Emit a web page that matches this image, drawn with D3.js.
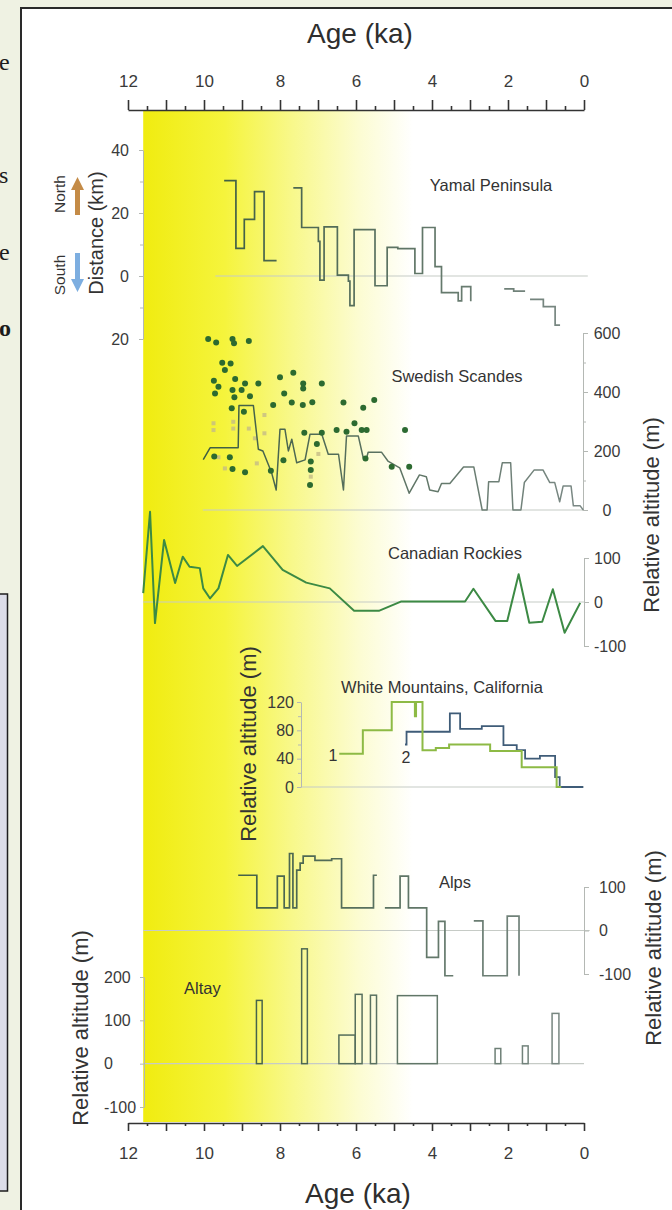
<!DOCTYPE html>
<html>
<head>
<meta charset="utf-8">
<script src="https://cdn.jsdelivr.net/npm/d3@7"></script>
<style>
  html, body { margin: 0; padding: 0; background: #eff2e3; }
  svg { display: block; }
</style>
</head>
<body>
<script>
// ages in ka, values in km (Yamal) or metres (the rest)
var ageTicks = d3.range(0, 13);
var ageMinorTicks = d3.range(0.5, 12, 1);

var yamalSegments = [
  [[9.47, 30.3], [9.16, 8.8], [8.94, 18], [8.67, 26.8], [8.42, 4.9], [8.09, 4.9]],
  [[7.65, 28], [7.43, 15.4], [6.99, 11], [6.95, -1.3], [6.84, 15.6], [6.49, 0.3], [6.2, -1.6], [6.16, -9.4],
   [6.05, 14.7], [5.5, -3.1], [5.18, 9.1], [4.9, 8.7], [4.45, 0.8], [4.25, 15.4], [3.92, 3], [3.75, -5.3],
   [3.31, -7.9], [3.22, -3.4], [2.98, -8]],
  [[2.1, -4.1], [1.85, -4.8], [1.55, -4.8]],
  [[1.42, -7.4], [1.07, -9.7], [0.76, -15.6], [0.63, -15.6]]
];

var scandesLine = [
  [10.02, 171], [9.84, 211], [9.1, 211], [9.08, 354], [8.7, 354], [8.57, 206], [8.45, 200], [8.22, 126],
  [8.1, 68], [8.0, 274], [7.87, 274], [7.78, 200], [7.69, 240], [7.56, 160], [7.34, 170], [7.21, 257],
  [6.9, 257], [6.73, 189], [6.46, 189], [6.33, 68], [6.25, 251], [5.94, 251], [5.81, 177], [5.72, 177],
  [5.68, 196], [5.33, 196], [5.16, 166], [4.85, 143], [4.6, 57], [4.33, 119], [4.15, 113], [4.06, 68],
  [3.84, 62], [3.75, 90], [3.53, 90], [3.17, 146], [2.9, 146], [2.68, 0], [2.55, 0], [2.51, 96],
  [2.24, 96], [2.15, 160], [1.93, 160], [1.87, 0], [1.66, 0], [1.57, 93], [1.31, 136], [1.08, 136],
  [0.9, 93], [0.77, 93], [0.64, 28], [0.55, 81], [0.34, 81], [0.28, 14], [0.1, 14], [0.02, 0]
];

var scandesDots = [
  [9.89, 580], [9.68, 568], [9.25, 580], [9.21, 565], [8.82, 573], [9.52, 499], [9.3, 497], [9.45, 475],
  [9.74, 438], [9.18, 444], [8.92, 429], [8.57, 429], [9.62, 418], [9.25, 407], [9.01, 407], [9.71, 395],
  [9.2, 382], [8.79, 386], [8.0, 450], [7.65, 465], [7.89, 395], [7.39, 429], [7.39, 412], [6.9, 429],
  [9.27, 345], [8.95, 333], [8.18, 356], [7.69, 364], [7.4, 356], [7.15, 365], [6.33, 364], [5.81, 347],
  [5.52, 373], [7.36, 262], [6.9, 262], [6.51, 271], [6.25, 265], [6.04, 294], [5.85, 271], [5.72, 271],
  [4.71, 271], [7.03, 224], [9.73, 181], [9.32, 179], [9.25, 139], [8.92, 128], [8.24, 133], [7.91, 169],
  [7.19, 164], [7.19, 136], [7.21, 85], [5.75, 175], [5.06, 147], [4.6, 147]
];

var scandesSquares = [
  [9.75, 294], [9.75, 271], [9.23, 299], [9.23, 276], [8.82, 276], [8.66, 243], [8.41, 322], [8.41, 260],
  [8.61, 158], [9.45, 141], [9.62, 179], [6.99, 190], [7.19, 113]
];

var rockies = [
  [11.6, 20], [11.42, 205], [11.29, -48], [11.05, 141], [10.76, 43], [10.56, 103], [10.38, 80], [10.11, 77],
  [10.02, 31], [9.84, 8], [9.62, 31], [9.37, 107], [9.13, 82], [8.45, 127], [7.93, 73], [7.31, 44],
  [6.69, 31], [6.05, -20], [5.4, -20], [4.82, 1], [3.13, 1], [2.91, 30], [2.33, -43], [2.02, -43],
  [1.72, 63], [1.44, -47], [1.1, -45], [0.82, 29], [0.51, -70], [0.1, -2]
];

var whiteMtn1 = [[6.44, 47], [5.82, 80], [5.06, 120], [4.45, 100], [4.42, 120], [4.25, 52], [3.9, 55],
  [3.55, 60], [2.47, 51], [1.64, 28], [0.72, 0], [0.6, 0]];
var whiteMtn2 = [[4.71, 60], [4.67, 78], [3.53, 104], [3.26, 82], [2.69, 86], [2.12, 59], [1.77, 52],
  [1.55, 40], [1.16, 44], [0.76, 14], [0.64, 0], [0.02, 0]];

var alpsSegments = [
  [[9.1, 127], [8.61, 52], [8.07, 125], [7.89, 52], [7.75, 177], [7.66, 52], [7.56, 139], [7.47, 155],
   [7.39, 171], [7.08, 161], [6.64, 165], [6.38, 52], [5.54, 127], [5.45, 127]],
  [[5.24, 52], [4.84, 125], [4.62, 52], [4.14, -62], [3.83, 21], [3.66, -104], [3.44, -104]],
  [[2.9, 22], [2.66, -104], [2.02, 33], [1.71, -104]]
];

// [older age, younger age, height]
var altayBars = [
  [8.62, 8.47, 146], [7.43, 7.28, 265], [6.45, 6.02, 66], [6.02, 5.84, 160], [5.62, 5.46, 158],
  [4.91, 3.86, 157], [2.34, 2.19, 35], [1.62, 1.47, 41], [0.84, 0.66, 116]
];

var holocene = [11.6, 4.5];
var panelNames = ["Yamal Peninsula", "Swedish Scandes", "Canadian Rockies", "White Mountains, California", "Alps", "Altay"];

var font = "'Liberation Sans', Arial, Helvetica, sans-serif";

var svg = d3.select("body").append("svg")
  .attr("width", 672)
  .attr("height", 1210)
  .attr("font-family", font);

var defs = svg.append("defs");
var band = defs.append("linearGradient").attr("id", "band")
  .attr("x1", "0%").attr("x2", "100%").attr("y1", "0%").attr("y2", "0%");
[[0, "#f0ec10"], [0.3, "#f5f43c"], [0.55, "#f8f88a"], [0.8, "#fcfcd2"], [1, "#ffffff"]].forEach(function (s) {
  band.append("stop").attr("offset", s[0]).attr("stop-color", s[1]);
});
var ink = defs.append("linearGradient").attr("id", "ink").attr("gradientUnits", "userSpaceOnUse")
  .attr("x1", 200).attr("x2", 580).attr("y1", 0).attr("y2", 0);
ink.append("stop").attr("offset", 0).attr("stop-color", "#3d5d40");
ink.append("stop").attr("offset", 1).attr("stop-color", "#7b8985");

// page behind the figure
svg.append("rect").attr("width", 672).attr("height", 1210).attr("fill", "#eff2e3");
svg.append("rect").attr("x", 21).attr("y", 8).attr("width", 680).attr("height", 1240)
  .attr("fill", "#ffffff").attr("stroke", "#2a2a2a").attr("stroke-width", 2);
svg.append("rect").attr("x", -3).attr("y", 594).attr("width", 10.5).attr("height", 597)
  .attr("fill", "#dcdde8").attr("stroke", "#1e1e1e").attr("stroke-width", 1.5);
[["e", 70, "normal"], ["s", 183, "normal"], ["e", 260, "normal"], ["o", 336, "bold"]].forEach(function (g) {
  svg.append("text").attr("x", -1).attr("y", g[1]).text(g[0])
    .attr("font-family", "'Liberation Serif', 'Times New Roman', serif")
    .attr("font-size", 24).attr("font-weight", g[2]).attr("fill", "#1c1c1c");
});

var x = d3.scaleLinear().domain([12, 0]).range([128, 584]);
var yamalY = d3.scaleLinear().domain([-20, 40]).range([339, 150]);
var scandesY = d3.scaleLinear().domain([0, 600]).range([510, 333]);
var rockiesY = d3.scaleLinear().domain([-100, 100]).range([646, 558]);
var wmY = d3.scaleLinear().domain([0, 120]).range([787, 702]);
var alpsY = d3.scaleLinear().domain([-100, 100]).range([974, 887]);
var altayY = d3.scaleLinear().domain([-100, 200]).range([1107, 977]);

// early Holocene band
svg.append("rect")
  .attr("x", x(holocene[0]))
  .attr("y", 111)
  .attr("width", x(holocene[1]) - x(holocene[0]))
  .attr("height", 1011)
  .attr("fill", "url(#band)");

// zero lines
[[yamalY, 9.7, -0.1], [scandesY, 10.03, 0], [rockiesY, 11.6, 0], [wmY, 7.45, 0], [alpsY, 11.6, -0.15], [altayY, 11.6, 0]]
  .forEach(function (z) {
    svg.append("line")
      .attr("x1", x(z[1])).attr("x2", x(z[2]))
      .attr("y1", z[0](0)).attr("y2", z[0](0))
      .attr("stroke", "#c6cbc6").attr("stroke-width", 1.2);
  });

function drawAxis(axis, tx, ty, color, size, width) {
  var g = svg.append("g").attr("transform", "translate(" + tx + "," + ty + ")").call(axis);
  g.attr("font-family", font).attr("font-size", size);
  g.select(".domain").attr("stroke", color).attr("stroke-width", width);
  g.selectAll(".tick line").attr("stroke", color).attr("stroke-width", width);
  g.selectAll(".tick text").attr("fill", "#3a3a3a");
  return g;
}
function drawMinor(axis, tx, ty, color, width) {
  var g = svg.append("g").attr("transform", "translate(" + tx + "," + ty + ")").call(axis.tickFormat(""));
  g.select(".domain").remove();
  g.selectAll(".tick line").attr("stroke", color).attr("stroke-width", width);
  return g;
}
function evenLabel(d) { return d % 2 === 0 ? d : ""; }
function hyphen(d) { return d < 0 ? "-" + (-d) : String(d); }

// age axes
drawAxis(d3.axisTop(x).tickValues(ageTicks).tickFormat(evenLabel).tickSize(10).tickSizeOuter(0).tickPadding(13),
  0, 110, "#333", 17, 1.6);
drawMinor(d3.axisTop(x).tickValues(ageMinorTicks).tickSize(4), 0, 110, "#333", 1.6);
drawAxis(d3.axisBottom(x).tickValues(ageTicks).tickFormat(evenLabel).tickSize(8).tickSizeOuter(0).tickPadding(16),
  0, 1123, "#333", 17, 1.6);
drawMinor(d3.axisBottom(x).tickValues(ageMinorTicks).tickSize(3), 0, 1123, "#333", 1.6);

svg.append("text").attr("x", 360).attr("y", 43).attr("text-anchor", "middle")
  .attr("font-size", 28).attr("fill", "#2e2e2e").text("Age (ka)");
svg.append("text").attr("x", 358).attr("y", 1203).attr("text-anchor", "middle")
  .attr("font-size", 28).attr("fill", "#2e2e2e").text("Age (ka)");

// panel axes
var axisGray = "#b4b8b4";
drawAxis(d3.axisLeft(yamalY).tickValues([-20, 0, 20, 40]).tickFormat(Math.abs).tickSize(4).tickSizeOuter(0).tickPadding(10),
  143, 0, axisGray, 16, 1);
drawMinor(d3.axisLeft(yamalY).tickValues([-10, 10, 30]).tickSize(3), 143, 0, axisGray, 1);

drawAxis(d3.axisRight(scandesY).tickValues([0, 200, 400, 600]).tickSize(5).tickSizeOuter(0).tickPadding(9),
  583, 0, axisGray, 16, 1)
  .selectAll(".tick text").attr("text-anchor", "middle").attr("x", 24);
drawMinor(d3.axisRight(scandesY).tickValues([100, 300, 500]).tickSize(3), 583, 0, axisGray, 1);

drawAxis(d3.axisRight(rockiesY).tickValues([-100, 0, 100]).tickFormat(hyphen).tickSize(5).tickSizeOuter(0).tickPadding(5),
  584, 0, axisGray, 16, 1);

drawAxis(d3.axisLeft(wmY).tickValues([0, 40, 80, 120]).tickSize(4).tickSizeOuter(0).tickPadding(3),
  301, 0, axisGray, 16, 1);
drawMinor(d3.axisLeft(wmY).tickValues([20, 60, 100]).tickSize(3), 301, 0, axisGray, 1);

drawAxis(d3.axisRight(alpsY).tickValues([-100, 0, 100]).tickFormat(hyphen).tickSize(5).tickSizeOuter(0).tickPadding(10),
  584, 0, axisGray, 16, 1);

drawAxis(d3.axisLeft(altayY).tickValues([-100, 0, 100, 200]).tickFormat(hyphen).tickSize(4).tickSizeOuter(0),
  144, 0, axisGray, 16, 1)
  .selectAll(".tick text").attr("text-anchor", "start").attr("x", -40);

// series
function stepLine(yScale) {
  return d3.line().x(function (d) { return x(d[0]); }).y(function (d) { return yScale(d[1]); }).curve(d3.curveStepAfter);
}
function plainLine(yScale) {
  return d3.line().x(function (d) { return x(d[0]); }).y(function (d) { return yScale(d[1]); });
}

svg.selectAll(".yamal").data(yamalSegments).enter().append("path")
  .attr("d", stepLine(yamalY)).attr("fill", "none")
  .attr("stroke", "url(#ink)").attr("stroke-width", 1.7);

svg.selectAll(".sq").data(scandesSquares).enter().append("rect")
  .attr("x", function (d) { return x(d[0]) - 2; })
  .attr("y", function (d) { return scandesY(d[1]) - 2; })
  .attr("width", 4).attr("height", 4)
  .attr("fill", "#c4bb86").attr("opacity", 0.8);

svg.append("path").datum(scandesLine)
  .attr("d", plainLine(scandesY)).attr("fill", "none")
  .attr("stroke", "url(#ink)").attr("stroke-width", 1.5).attr("stroke-linejoin", "round");

svg.selectAll(".dot").data(scandesDots).enter().append("circle")
  .attr("cx", function (d) { return x(d[0]); })
  .attr("cy", function (d) { return scandesY(d[1]); })
  .attr("r", 3)
  .attr("fill", "#2c6a30");

svg.append("path").datum(rockies)
  .attr("d", plainLine(rockiesY)).attr("fill", "none")
  .attr("stroke", "#3c8a44").attr("stroke-width", 2).attr("stroke-linejoin", "round");

svg.append("path").datum(whiteMtn2)
  .attr("d", stepLine(wmY)).attr("fill", "none")
  .attr("stroke", "#3f5c78").attr("stroke-width", 1.8);
svg.append("path").datum(whiteMtn1)
  .attr("d", stepLine(wmY)).attr("fill", "none")
  .attr("stroke", "#8dba45").attr("stroke-width", 2);

svg.selectAll(".alps").data(alpsSegments).enter().append("path")
  .attr("d", stepLine(alpsY)).attr("fill", "none")
  .attr("stroke", "url(#ink)").attr("stroke-width", 1.7);

svg.selectAll(".altay").data(altayBars).enter().append("rect")
  .attr("x", function (d) { return x(d[0]); })
  .attr("y", function (d) { return altayY(d[2]); })
  .attr("width", function (d) { return x(d[1]) - x(d[0]); })
  .attr("height", function (d) { return altayY(0) - altayY(d[2]); })
  .attr("fill", "none")
  .attr("stroke", "url(#ink)").attr("stroke-width", 1.5);

// panel titles
var titleSpots = [[491, 191, "middle"], [457, 382, "middle"], [455, 559, "middle"], [442, 693, "middle"], [455, 888, "middle"], [184, 994, "start"]];
panelNames.forEach(function (name, i) {
  svg.append("text").attr("x", titleSpots[i][0]).attr("y", titleSpots[i][1])
    .attr("text-anchor", titleSpots[i][2]).attr("font-size", 16.5).attr("fill", "#333").text(name);
});
svg.append("text").attr("x", 333).attr("y", 761).attr("text-anchor", "middle").attr("font-size", 16).attr("fill", "#333").text("1");
svg.append("text").attr("x", 406).attr("y", 763).attr("text-anchor", "middle").attr("font-size", 16).attr("fill", "#333").text("2");

// axis titles
function sideTitle(cx, cy, label, size) {
  svg.append("text")
    .attr("transform", "translate(" + cx + "," + cy + ") rotate(-90)")
    .attr("text-anchor", "middle").attr("dy", "0.35em")
    .attr("font-size", size).attr("fill", "#333").text(label);
}
sideTitle(651, 515, "Relative altitude (m)", 22);
sideTitle(653, 948, "Relative altitude (m)", 22);
sideTitle(248, 744, "Relative altitude (m)", 22);
sideTitle(80, 1028, "Relative altitude (m)", 22);
sideTitle(96, 233, "Distance (km)", 20);
sideTitle(60, 194, "North", 15.5);
sideTitle(60, 275, "South", 15.5);

// direction arrows
svg.append("path")
  .attr("d", "M77.5,177 L84,190 L80,190 L80,215 L75,215 L75,190 L71,190 Z")
  .attr("fill", "#c48b47");
svg.append("path")
  .attr("d", "M77.5,292 L84,279 L80,279 L80,253 L75,253 L75,279 L71,279 Z")
  .attr("fill", "#7daee0");
</script>
</body>
</html>
